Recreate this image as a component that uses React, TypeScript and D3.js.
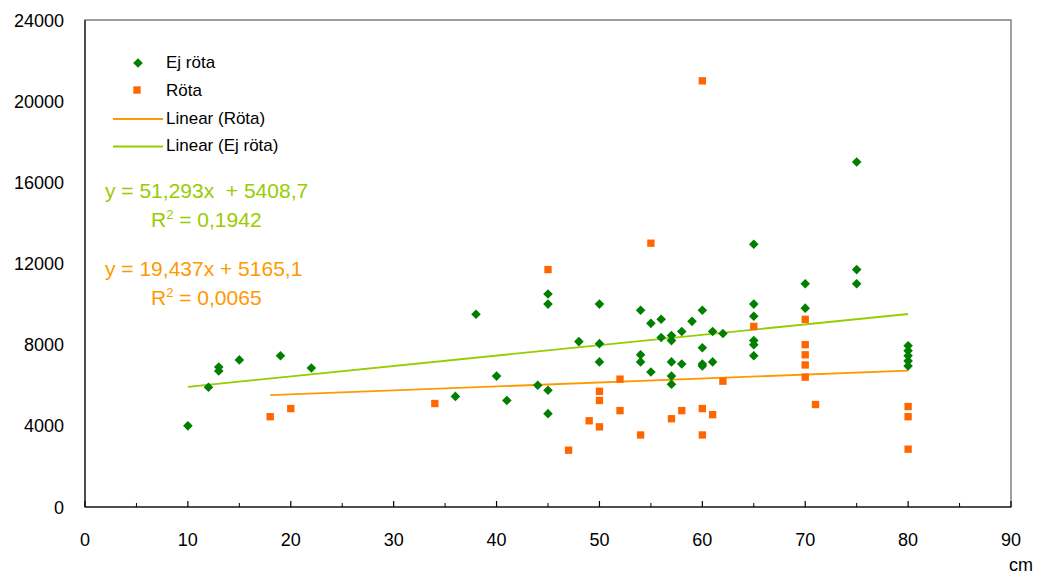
import React, { useEffect, useRef } from "react";
import * as d3 from "d3";

// Ej röta (no rot) - diameter in cm and value
const ejRotaCm = [10, 12, 13, 13, 15, 19, 22, 36, 38, 40, 41, 44, 45, 45, 45, 45, 48, 50, 50, 50, 54, 54, 54, 55, 55, 56, 56, 57, 57, 57, 57, 57, 58, 58, 59, 60, 60, 60, 60, 61, 61, 62, 65, 65, 65, 65, 65, 65, 70, 70, 75, 75, 75, 80, 80, 80, 80, 80];
const ejRotaVal = [4000, 5900, 6900, 6700, 7250, 7450, 6850, 5450, 9500, 6450, 5250, 6000, 10500, 10000, 5750, 4600, 8150, 10000, 8050, 7150, 9700, 7500, 7150, 9050, 6650, 9250, 8350, 8450, 8200, 7150, 6450, 6050, 8650, 7050, 9150, 9700, 7850, 7050, 6950, 8650, 7150, 8550, 12950, 10000, 9400, 8200, 8000, 7450, 11000, 9800, 17000, 11700, 11000, 7950, 7700, 7450, 7200, 6950];

// Röta (rot)
const rotaCm = [18, 20, 34, 45, 47, 49, 50, 50, 50, 52, 52, 54, 55, 57, 58, 60, 60, 60, 61, 62, 65, 70, 70, 70, 70, 70, 71, 80, 80, 80];
const rotaVal = [4450, 4850, 5100, 11700, 2800, 4250, 5700, 5250, 3950, 6300, 4750, 3550, 13000, 4350, 4750, 21000, 4850, 3550, 4550, 6200, 8900, 9250, 8000, 7500, 7000, 6400, 5050, 4950, 4450, 2850];

const xTicks = [0, 10, 20, 30, 40, 50, 60, 70, 80, 90];
const xMinorTicks = [5, 15, 25, 35, 45, 55, 65, 75, 85];
const yTicks = [0, 4000, 8000, 12000, 16000, 20000, 24000];

// trend line coefficients as printed on the chart
const ejSlope = 51.293;
const ejIntercept = 5408.7;
const rotaSlope = 19.437;
const rotaIntercept = 5165.1;

const GREEN = "#007f00";
const ORANGE = "#ff6600";
const LINE_GREEN = "#99cc00";
const LINE_ORANGE = "#ff9900";
const FONT = "'Liberation Sans', Arial, sans-serif";

const Chart = () => {
  const ref = useRef<HTMLDivElement>(null);

  useEffect(() => {
    const width = 1038;
    const height = 576;
    const margin = { top: 20, right: 27, bottom: 69, left: 85 };

    const svg = d3
      .create("svg")
      .attr("width", width)
      .attr("height", height)
      .attr("viewBox", [0, 0, width, height])
      .style("font-family", FONT)
      .style("display", "block");

    const x = d3.scaleLinear().domain([0, 90]).range([margin.left, width - margin.right]);
    const y = d3.scaleLinear().domain([0, 24000]).range([height - margin.bottom, margin.top]);

    // frame
    svg
      .append("rect")
      .attr("x", x(0))
      .attr("y", y(24000))
      .attr("width", x(90) - x(0))
      .attr("height", y(0) - y(24000))
      .attr("fill", "none")
      .attr("stroke", "#7f7f7f")
      .attr("stroke-width", 1.5);

    // axis lines
    svg.append("line").attr("x1", x(0)).attr("x2", x(0)).attr("y1", y(0)).attr("y2", y(24000))
      .attr("stroke", "#333").attr("stroke-width", 1.5);
    svg.append("line").attr("x1", x(0)).attr("x2", x(90)).attr("y1", y(0)).attr("y2", y(0))
      .attr("stroke", "#333").attr("stroke-width", 1.5);

    // x ticks
    svg.selectAll(".xmaj").data(xTicks).join("line")
      .attr("x1", (d) => x(d)).attr("x2", (d) => x(d))
      .attr("y1", y(0)).attr("y2", y(0) - 6)
      .attr("stroke", "#000").attr("stroke-width", 1.2);
    svg.selectAll(".xmin").data(xMinorTicks).join("line")
      .attr("x1", (d) => x(d)).attr("x2", (d) => x(d))
      .attr("y1", y(0)).attr("y2", y(0) - 4)
      .attr("stroke", "#000").attr("stroke-width", 1);

    svg.append("g").selectAll("text").data(xTicks).join("text")
      .attr("x", (d) => x(d))
      .attr("y", y(0) + 39)
      .attr("text-anchor", "middle")
      .attr("font-size", 18)
      .attr("fill", "#000")
      .text((d) => d);

    svg.append("text")
      .attr("x", 1033)
      .attr("y", 571)
      .attr("text-anchor", "end")
      .attr("font-size", 18)
      .text("cm");

    // y tick labels
    svg.append("g").selectAll("text").data(yTicks).join("text")
      .attr("x", 64)
      .attr("y", (d) => y(d) + 6.5)
      .attr("text-anchor", "end")
      .attr("font-size", 18)
      .attr("fill", "#000")
      .text((d) => d);

    // trend lines
    const ejExt = d3.extent(ejRotaCm) as [number, number];
    const rotaExt = d3.extent(rotaCm) as [number, number];
    const line = d3.line<[number, number]>().x((d) => x(d[0])).y((d) => y(d[1]));

    svg.append("path")
      .attr("d", line(ejExt.map((v) => [v, ejSlope * v + ejIntercept] as [number, number])))
      .attr("stroke", LINE_GREEN).attr("stroke-width", 1.8).attr("fill", "none");
    svg.append("path")
      .attr("d", line(rotaExt.map((v) => [v, rotaSlope * v + rotaIntercept] as [number, number])))
      .attr("stroke", LINE_ORANGE).attr("stroke-width", 1.8).attr("fill", "none");

    // points
    const diamond = d3.symbol(d3.symbolSquare, 46)();
    const square = d3.symbol(d3.symbolSquare, 54)();

    svg.append("g").selectAll("path").data(rotaCm).join("path")
      .attr("d", square)
      .attr("transform", (d, i) => `translate(${x(d)},${y(rotaVal[i])})`)
      .attr("fill", ORANGE);

    svg.append("g").selectAll("path").data(ejRotaCm).join("path")
      .attr("d", diamond)
      .attr("transform", (d, i) => `translate(${x(d)},${y(ejRotaVal[i])}) rotate(45)`)
      .attr("fill", GREEN);

    // legend
    const lg = svg.append("g").attr("font-size", 17);
    lg.append("path").attr("d", diamond).attr("transform", "translate(138,63) rotate(45)").attr("fill", GREEN);
    lg.append("text").attr("x", 166).attr("y", 68).text("Ej röta");
    lg.append("path").attr("d", square).attr("transform", "translate(137,90)").attr("fill", ORANGE);
    lg.append("text").attr("x", 166).attr("y", 96).text("Röta");
    lg.append("line").attr("x1", 113).attr("x2", 163).attr("y1", 119).attr("y2", 119)
      .attr("stroke", LINE_ORANGE).attr("stroke-width", 2);
    lg.append("text").attr("x", 166).attr("y", 124).text("Linear (Röta)");
    lg.append("line").attr("x1", 113).attr("x2", 163).attr("y1", 146.5).attr("y2", 146.5)
      .attr("stroke", LINE_GREEN).attr("stroke-width", 2);
    lg.append("text").attr("x", 166).attr("y", 151).text("Linear (Ej röta)");

    // equations
    const eq = (ty: number, color: string, label: string, r2: string) => {
      svg.append("text")
        .attr("x", 105).attr("y", ty)
        .attr("font-size", 21).attr("fill", color)
        .style("white-space", "pre")
        .text(label);
      const t = svg.append("text")
        .attr("x", 151).attr("y", ty + 29)
        .attr("font-size", 21).attr("fill", color)
        .style("white-space", "pre");
      t.append("tspan").text("R");
      t.append("tspan").attr("font-size", 13).attr("dy", -8).text("2");
      t.append("tspan").attr("dy", 8).text(" = " + r2);
    };
    eq(198, LINE_GREEN, "y = 51,293x  + 5408,7", "0,1942");
    eq(276, LINE_ORANGE, "y = 19,437x + 5165,1", "0,0065");

    const node = svg.node();
    if (ref.current && node) {
      ref.current.innerHTML = "";
      ref.current.appendChild(node);
    }
  }, []);

  return <div ref={ref} style={{ position: "absolute", left: 0, top: 0 }} />;
};

export default function App() {
  return <Chart />;
}
